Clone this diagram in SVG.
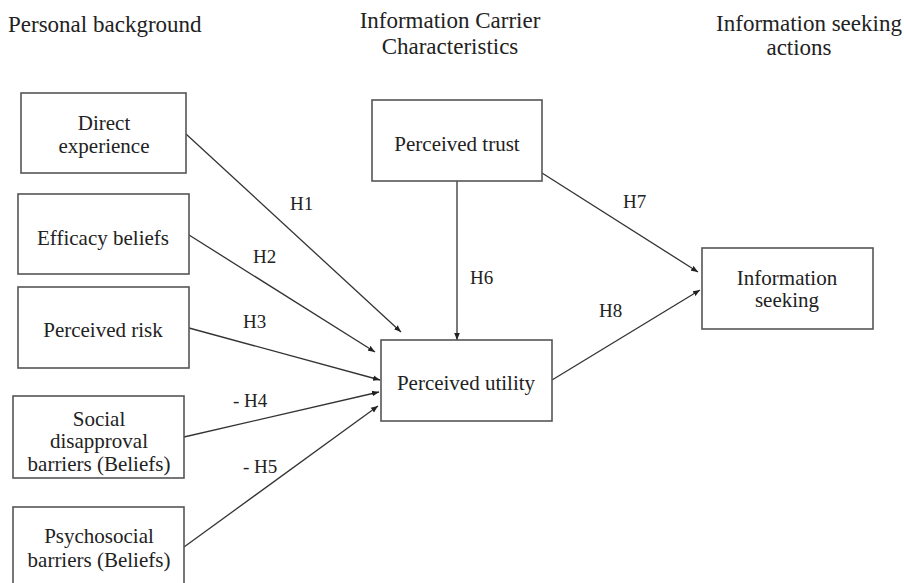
<svg xmlns="http://www.w3.org/2000/svg" width="904" height="583" viewBox="0 0 904 583">
  <style>
    .box { fill: #ffffff; stroke: #555555; stroke-width: 1.6; }
    .lbl { font-family: "Liberation Serif", "DejaVu Serif", "Times New Roman", serif; font-size: 21px; fill: #222222; text-anchor: middle; }
    .hdr { font-family: "Liberation Serif", "DejaVu Serif", "Times New Roman", serif; font-size: 23px; fill: #222222; }
    .hyp { font-family: "Liberation Serif", "DejaVu Serif", "Times New Roman", serif; font-size: 19px; fill: #222222; }
    .edge { stroke: #333333; stroke-width: 1.3; fill: none; marker-end: url(#arrow); }
  </style>
  <defs>
    <marker id="arrow" viewBox="0 0 10 10" refX="10" refY="5" markerWidth="7" markerHeight="7" markerUnits="userSpaceOnUse" orient="auto">
      <path d="M0,1 L10,5 L0,9 z" fill="#222222"/>
    </marker>
  </defs>
  <rect width="904" height="583" fill="#ffffff"/>

  <!-- column headings -->
  <g id="headings">
    <text class="hdr" x="8" y="32">Personal background</text>
    <text class="hdr" x="450" y="28" text-anchor="middle">Information Carrier</text>
    <text class="hdr" x="450" y="54" text-anchor="middle">Characteristics</text>
    <text class="hdr" x="809" y="31" text-anchor="middle">Information seeking</text>
    <text class="hdr" x="799" y="55" text-anchor="middle">actions</text>
  </g>

  <!-- connectors -->
  <g id="connectors">
    <line class="edge" x1="186" y1="134" x2="401" y2="332"/>
    <line class="edge" x1="189" y1="235" x2="375" y2="352"/>
    <line class="edge" x1="189" y1="328" x2="380" y2="380"/>
    <line class="edge" x1="184" y1="437" x2="379" y2="392"/>
    <line class="edge" x1="184" y1="547" x2="378" y2="406"/>
    <line class="edge" x1="457" y1="181" x2="457" y2="340"/>
    <line class="edge" x1="542" y1="173" x2="698" y2="272"/>
    <line class="edge" x1="552" y1="380" x2="700" y2="290"/>
    <text class="hyp" x="290" y="210">H1</text>
    <text class="hyp" x="253" y="263">H2</text>
    <text class="hyp" x="243" y="328">H3</text>
    <text class="hyp" x="233" y="407">- H4</text>
    <text class="hyp" x="243" y="473">- H5</text>
    <text class="hyp" x="470" y="284">H6</text>
    <text class="hyp" x="623" y="208">H7</text>
    <text class="hyp" x="599" y="317">H8</text>
  </g>

  <g id="direct-experience">
    <rect class="box" x="21" y="93" width="165" height="80"/>
    <text class="lbl" x="104" y="130">Direct</text>
    <text class="lbl" x="104" y="153">experience</text>
  </g>
  <g id="efficacy-beliefs">
    <rect class="box" x="18" y="194" width="171" height="80"/>
    <text class="lbl" x="103" y="245">Efficacy beliefs</text>
  </g>
  <g id="perceived-risk">
    <rect class="box" x="18" y="287" width="171" height="81"/>
    <text class="lbl" x="103" y="337">Perceived risk</text>
  </g>
  <g id="social-disapproval">
    <rect class="box" x="13" y="396" width="171" height="82"/>
    <text class="lbl" x="99" y="426">Social</text>
    <text class="lbl" x="99" y="448">disapproval</text>
    <text class="lbl" x="99" y="471">barriers (Beliefs)</text>
  </g>
  <g id="psychosocial-barriers">
    <rect class="box" x="13" y="507" width="171" height="82"/>
    <text class="lbl" x="99" y="543">Psychosocial</text>
    <text class="lbl" x="99" y="567">barriers (Beliefs)</text>
  </g>
  <g id="perceived-trust">
    <rect class="box" x="372" y="100" width="170" height="81"/>
    <text class="lbl" x="457" y="151">Perceived trust</text>
  </g>
  <g id="perceived-utility">
    <rect class="box" x="381" y="340" width="171" height="81"/>
    <text class="lbl" x="466" y="390">Perceived utility</text>
  </g>
  <g id="information-seeking">
    <rect class="box" x="702" y="248" width="171" height="81"/>
    <text class="lbl" x="787" y="285">Information</text>
    <text class="lbl" x="787" y="307">seeking</text>
  </g>
</svg>
